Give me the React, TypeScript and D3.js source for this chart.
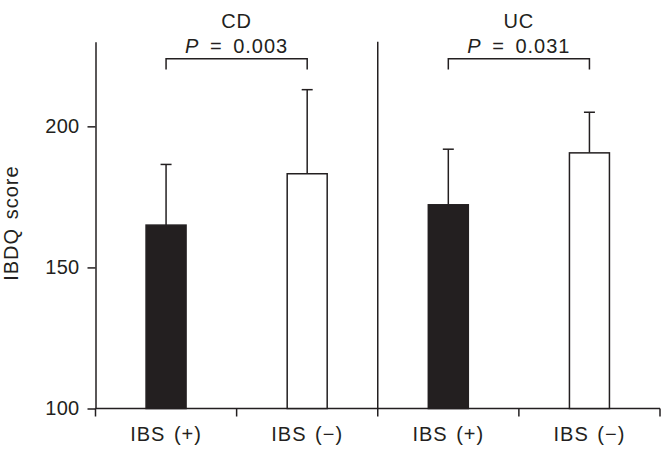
import React, { useRef, useEffect } from "react";
import * as d3 from "d3";

// groups and bars
const groups = ["CD", "UC"];
const pValues = ["0.003", "0.031"];
const barLabels = ["IBS (+)", "IBS (\u2212)", "IBS (+)", "IBS (\u2212)"];
const barGroup = [0, 0, 1, 1];
const barIbs = [true, false, true, false];
const means = [165, 183.2, 172.2, 190.6];
const errorTops = [186.5, 213, 191.9, 205];
const yTicks = [100, 150, 200];

const INK = "#231f20";
const FONT = "'Liberation Sans', Arial, Helvetica, sans-serif";

const App = () => {
  const chartRef = useRef<SVGSVGElement | null>(null);

  useEffect(() => {
    const width = 670;
    const height = 456;
    const left = 95.5;
    const right = 660;
    const bottom = 408.5;

    const svg = d3.select(chartRef.current);
    svg.selectAll("*").remove();
    svg.attr("width", width).attr("height", height);

    const label = (sel: any) =>
      sel
        .attr("fill", INK)
        .style("font-family", FONT)
        .style("font-size", "20px")
        .style("letter-spacing", "1px")
        .style("word-spacing", "2px");

    const y = d3.scaleLinear().domain([100, 230]).range([bottom, 41.7]);
    const x = d3
      .scaleBand<number>()
      .domain(d3.range(barLabels.length))
      .range([left, right])
      .padding(0);
    const barW = 40;
    const cx = (i: number) => (x(i) as number) + x.bandwidth() / 2;

    // y axis
    const yAxis = d3
      .axisLeft(y)
      .tickValues(yTicks)
      .tickSize(8)
      .tickPadding(8)
      .tickSizeOuter(0);
    const gy = svg
      .append("g")
      .attr("transform", `translate(${left},0)`)
      .call(yAxis);
    gy.selectAll("path, line").attr("stroke", INK).attr("stroke-width", 1.5);
    gy.selectAll("text")
      .attr("fill", INK)
      .style("font-family", FONT)
      .style("font-size", "20px")
      .style("letter-spacing", "0.3px");

    svg
      .append("text")
      .attr("transform", `translate(18,${(y(100) + y(230)) / 2 - 2}) rotate(-90)`)
      .attr("text-anchor", "middle")
      .call(label)
      .text("IBDQ score");

    // x axis with ticks at band edges
    svg
      .append("line")
      .attr("x1", left)
      .attr("x2", right)
      .attr("y1", bottom)
      .attr("y2", bottom)
      .attr("stroke", INK)
      .attr("stroke-width", 1.5);
    const edges = [...x.domain().map((d) => x(d) as number), right];
    svg
      .selectAll(".xtick")
      .data(edges)
      .enter()
      .append("line")
      .attr("x1", (d) => d)
      .attr("x2", (d) => d)
      .attr("y1", bottom)
      .attr("y2", bottom + 8)
      .attr("stroke", INK)
      .attr("stroke-width", 1.5);
    svg
      .selectAll(".xlabel")
      .data(barLabels)
      .enter()
      .append("text")
      .attr("x", (d, i) => cx(i))
      .attr("y", 441)
      .attr("text-anchor", "middle")
      .call(label)
      .text((d) => d);

    // divider between CD and UC
    svg
      .append("line")
      .attr("x1", x(2) as number)
      .attr("x2", x(2) as number)
      .attr("y1", y(230))
      .attr("y2", bottom)
      .attr("stroke", INK)
      .attr("stroke-width", 1.5);

    // error bars (upper only)
    const eb = svg
      .selectAll(".err")
      .data(d3.range(means.length))
      .enter()
      .append("g");
    eb.append("line")
      .attr("x1", (i) => cx(i))
      .attr("x2", (i) => cx(i))
      .attr("y1", (i) => y(means[i]))
      .attr("y2", (i) => y(errorTops[i]))
      .attr("stroke", INK)
      .attr("stroke-width", 1.5);
    eb.append("line")
      .attr("x1", (i) => cx(i) - 5.5)
      .attr("x2", (i) => cx(i) + 5.5)
      .attr("y1", (i) => y(errorTops[i]))
      .attr("y2", (i) => y(errorTops[i]))
      .attr("stroke", INK)
      .attr("stroke-width", 1.5);

    // bars
    svg
      .selectAll(".bar")
      .data(d3.range(means.length))
      .enter()
      .append("rect")
      .attr("x", (i) => cx(i) - barW / 2)
      .attr("width", barW)
      .attr("y", (i) => y(means[i]))
      .attr("height", (i) => bottom - y(means[i]))
      .attr("fill", (i) => (barIbs[i] ? INK : "#ffffff"))
      .attr("stroke", INK)
      .attr("stroke-width", 1.5);

    // group titles, p values and brackets
    groups.forEach((g, gi) => {
      const idx = d3.range(means.length).filter((i) => barGroup[i] === gi);
      const x1 = cx(idx[0]);
      const x2 = cx(idx[idx.length - 1]);
      const mid = (x1 + x2) / 2;
      svg
        .append("text")
        .attr("x", mid)
        .attr("y", 27.5)
        .attr("text-anchor", "middle")
        .call(label)
        .text(g);
      const pt = svg
        .append("text")
        .attr("x", mid)
        .attr("y", 52.5)
        .attr("text-anchor", "middle")
        .call(label)
        .style("word-spacing", "4px");
      pt.append("tspan").style("font-style", "italic").text("P");
      pt.append("tspan").text(` = ${pValues[gi]}`);
      svg
        .append("path")
        .attr("d", `M${x1},69.5V58.7H${x2}V69.5`)
        .attr("fill", "none")
        .attr("stroke", INK)
        .attr("stroke-width", 1.5);
    });
  }, []);

  return (
    <svg
      ref={chartRef}
      style={{ position: "absolute", left: 0, top: 0, background: "#fff" }}
    />
  );
};

export default App;
